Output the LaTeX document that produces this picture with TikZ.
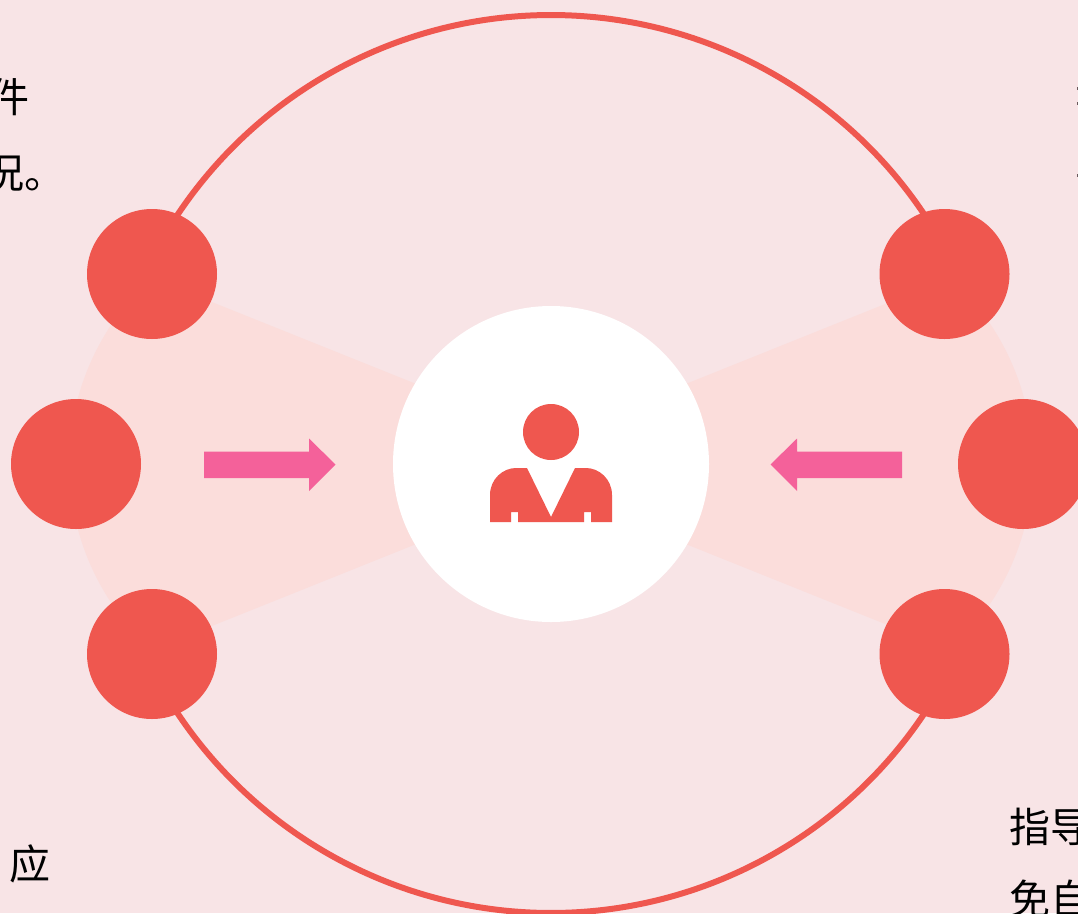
\documentclass[tikz,border=0pt]{standalone}
\usepackage{fontspec}
\newfontfamily\cjk{Noto Sans CJK SC}
\definecolor{bgpink}{HTML}{F8E4E6}
\definecolor{wedgepink}{HTML}{FBDDDB}
\definecolor{coral}{HTML}{EF574F}
\definecolor{arrowpink}{HTML}{F4619A}
\definecolor{inkmark}{HTML}{6A5A5C}
\tikzset{
  dot/.style={circle,fill=coral,draw=none,minimum size=130pt,inner sep=0pt},
  hub/.style={circle,fill=white,draw=none,minimum size=316pt,inner sep=0pt},
  label/.style={font=\cjk\fontsize{41pt}{41pt}\selectfont,text=black,inner sep=0pt,anchor=west},
  ringline/.style={draw=coral,line width=6pt},
  wedge/.style={fill=wedgepink,draw=none},
  pointer/.style={fill=arrowpink,draw=none}
}
\begin{document}
\begin{tikzpicture}[x=1pt,y=-1pt]
\useasboundingbox (0,0) rectangle (1078,913);
\clip (0,0) rectangle (1078,913);
\fill[bgpink] (0,0) rectangle (1078,913);
% wedges
\fill[wedge] (152,278) -- (440,393.5) -- (440,534.5) -- (152,650) arc[start angle=132.05,end angle=227.95,radius=250.8] -- cycle;
\fill[wedge] (950,278) -- (662,393.5) -- (662,534.5) -- (950,650) arc[start angle=47.95,end angle=-47.95,radius=250.8] -- cycle;
% hub and ring
\node[hub] (hub) at (551,464) {};
\draw[ringline] (hub.center) ++(213.6:449) arc[start angle=213.6,end angle=326.4,radius=449];
\draw[ringline] (hub.center) ++(146.4:449) arc[start angle=146.4,end angle=33.6,radius=449];
% nodes
\node[dot] (tl) at (152,274) {};
\node[dot] (ml) at (76,464) {};
\node[dot] (bl) at (152,654) {};
\node[dot] (tr) at (944.5,274) {};
\node[dot] (mr) at (1023,464) {};
\node[dot] (br) at (944.5,654) {};
% arrows
\fill[pointer] (204,451.5) -- (309,451.5) -- (309,438.5) -- (335.5,464.5) -- (309,491) -- (309,478) -- (204,478) -- cycle;
\fill[pointer] (902,451.5) -- (797,451.5) -- (797,438.5) -- (770.5,464.5) -- (797,491) -- (797,478) -- (902,478) -- cycle;
% person
\node[circle,fill=coral,minimum size=56pt,inner sep=0pt] (head) at (551,432) {};
\fill[coral] (490,522) -- (490,495) .. controls (490,479) and (503,468) .. (516,468) -- (527,468) -- (551,517) -- (575,468) -- (586,468) .. controls (599,468) and (612,479) .. (612,495) -- (612,522) -- (591,522) -- (591,512) -- (584,512) -- (584,522) -- (518,522) -- (518,512) -- (511,512) -- (511,522) -- cycle;
% texts
\node[label] (t1) at (-12,97) {件};
\node[label] (t2) at (-17,174) {况。};
\node[label] (t3) at (9.5,864) {应};
\node[label] (t4) at (1009,827) {指导};
\node[label] (t5) at (1009,899) {免自};
% clipped glyph edges at the right margin
\fill[inkmark] (1077,87) rectangle (1078,90);
\fill[inkmark] (1077,102) rectangle (1078,105);
\fill[inkmark] (1077,174) rectangle (1078,177);
\end{tikzpicture}
\end{document}
